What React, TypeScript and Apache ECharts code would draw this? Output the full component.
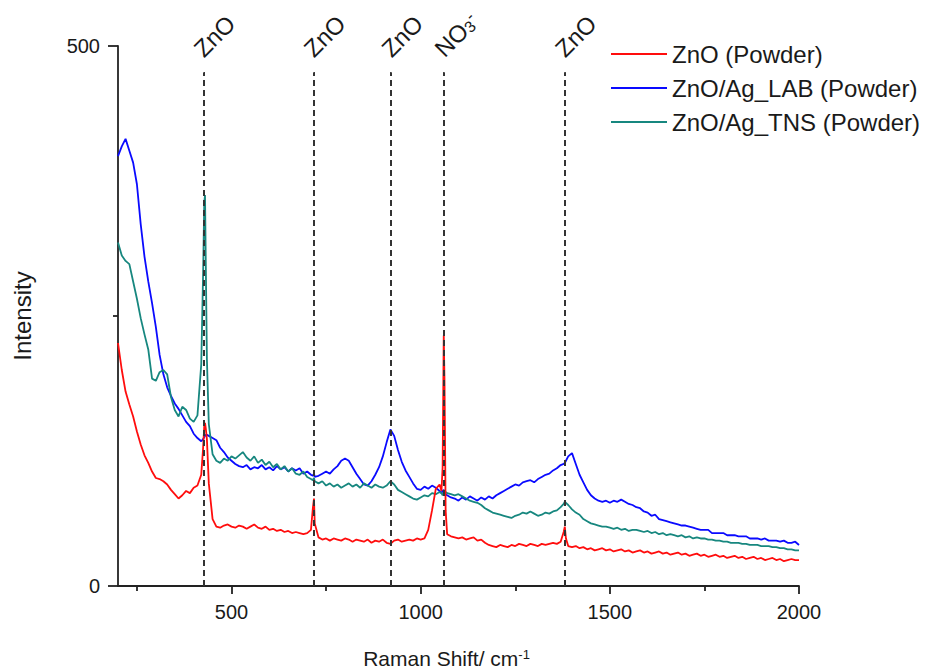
import React, { useEffect, useRef } from "react";
import * as echarts from "echarts";

// Raman shift grid (cm^-1)
const ramanShift = [
  200, 210, 220, 230, 240, 250, 260, 270, 280, 290, 300, 310, 320, 330, 340, 350, 360, 370, 380, 390, 400, 410, 420,
  425, 428, 430, 432, 435,
  440, 450, 460, 470, 480, 490, 500, 510, 520, 530, 540, 550, 560, 570, 580, 590, 600, 610, 620, 630, 640, 650, 660, 670, 680, 690, 700, 710,
  715, 718,
  720, 730, 740, 750, 760, 770, 780, 790, 800, 810, 820, 830, 840, 850, 860, 870, 880, 890, 900, 910, 920, 930, 940, 950, 960, 970, 980, 990, 1000, 1010, 1020, 1030, 1040, 1050,
  1055, 1058, 1061, 1063, 1066,
  1070, 1080, 1090, 1100, 1110, 1120, 1130, 1140, 1150, 1160, 1170, 1180, 1190, 1200, 1210, 1220, 1230, 1240, 1250, 1260, 1270, 1280, 1290, 1300, 1310, 1320, 1330, 1340, 1350, 1360, 1370,
  1378, 1381, 1384,
  1390, 1400, 1410, 1420, 1430, 1440, 1450, 1460, 1470, 1480, 1490, 1500, 1510, 1520, 1530, 1540, 1550, 1560, 1570, 1580, 1590, 1600, 1610, 1620, 1630, 1640, 1650, 1660, 1670, 1680, 1690, 1700, 1710, 1720, 1730, 1740, 1750, 1760, 1770, 1780, 1790, 1800, 1810, 1820, 1830, 1840, 1850, 1860, 1870, 1880, 1890, 1900, 1910, 1920, 1930, 1940, 1950, 1960, 1970, 1980, 1990, 2000,
];

const znoPowder = [
  225, 200, 180, 168, 157, 143, 131, 121, 114, 106, 100, 99, 97, 94, 89, 85, 81, 84, 88, 86, 91, 93, 103,
  128, 148, 151, 146, 136,
  95, 62, 55, 54, 56, 57, 55, 54, 56, 55, 53, 55, 57, 54, 53, 55, 52, 53, 51, 52, 50, 51, 49, 50, 49, 48, 49, 52,
  72, 81,
  58, 45, 43, 44, 42, 44, 43, 42, 44, 43, 41, 43, 42, 41, 43, 40, 42, 41, 43, 40, 39, 42, 43, 41, 42, 43, 42, 44, 43, 44, 52, 70, 90, 94,
  88, 110, 232, 190, 70,
  48, 46, 45, 44, 45, 43, 44, 45, 42, 43, 40, 38, 37, 36, 38, 37, 36, 38, 37, 39, 38, 37, 39, 38, 37, 39, 38, 39, 40, 39, 41,
  50, 55, 44,
  37, 36, 37, 35, 36, 34, 35, 33, 34, 35, 33, 34, 32, 33, 34, 32, 33, 31, 32, 33, 31, 32, 30, 31, 32, 30, 31, 29, 30, 31, 29, 30, 28, 29, 30, 28, 29, 27, 28, 29, 27, 28, 26, 27, 28, 26, 27, 25, 26, 27, 25, 26, 24, 25, 26, 24, 25, 23, 24, 25, 24, 24,
];

const labPowder = [
  398, 407, 414, 403, 392, 372, 335, 305, 282, 262, 240, 214, 196, 184, 176, 169, 164, 158, 152, 148, 141, 137, 134,
  136, 138, 139, 140, 140,
  139, 137, 135, 128, 124, 119, 116, 113, 111, 110, 112, 108, 110, 109, 112, 108, 110, 107, 111, 108, 110, 106, 109, 107, 109, 104, 106, 103,
  102, 104,
  101, 102, 104, 106, 104, 108, 111, 116, 118, 116, 110, 104, 99, 94, 93, 97, 103, 110, 120, 133, 145, 139, 126, 115, 107, 101, 95, 90, 89, 92, 90, 93, 91, 88,
  86, 88, 89, 87, 85,
  84, 82, 81, 79, 82, 80, 83, 81, 79, 82, 80, 83, 81, 84, 86, 88, 90, 92, 94, 93, 96, 97, 98, 96, 99, 101, 103, 104, 107, 109, 112,
  113, 114, 116,
  120, 123, 113, 103, 96, 89, 84, 81, 79, 78, 79, 77, 79, 78, 80, 78, 76, 75, 73, 72, 69, 68, 65, 66, 62, 61, 60, 59, 58, 57, 56, 56, 55, 54, 53, 52, 52, 52, 49, 49, 49, 49, 47, 47, 47, 46, 46, 46, 44, 44, 44, 43, 44, 42, 42, 42, 41, 42, 40, 40, 41, 38,
];

const tnsPowder = [
  318, 306, 301, 298, 282, 266, 248, 233, 219, 192, 190, 198, 200, 196, 175, 163, 157, 166, 163, 155, 152, 158, 205,
  290, 355, 362, 300, 210,
  150, 122, 116, 114, 118, 116, 120, 118, 121, 124, 119, 116, 120, 114, 117, 112, 115, 110, 113, 108, 111, 106, 109, 104, 103, 106, 101, 99,
  98, 100,
  97, 95, 97, 93, 95, 92, 94, 91, 93, 95, 92, 94, 91, 95, 93, 91, 94, 92, 91, 93, 97, 94, 89, 87, 85, 83, 81, 80, 82, 84, 83, 86, 85, 87,
  86, 84, 86, 85, 87,
  86, 85, 84, 85, 83, 81, 79, 78, 77, 75, 72, 70, 68, 67, 66, 65, 64, 63, 65, 66, 68, 67, 69, 67, 65, 66, 68, 67, 69, 70, 73,
  76, 78, 77,
  75, 71, 68, 66, 62, 60, 58, 57, 56, 55, 55, 54, 53, 54, 52, 53, 51, 52, 52, 51, 50, 51, 49, 50, 48, 49, 47, 48, 47, 46, 47, 45, 46, 44, 45, 44, 44, 43, 43, 42, 42, 41, 41, 40, 40, 40, 39, 39, 38, 38, 38, 37, 37, 37, 36, 36, 35, 35, 34, 34, 33, 33,
];

const seriesNames = ["ZnO (Powder)", "ZnO/Ag_LAB (Powder)", "ZnO/Ag_TNS (Powder)"];
const peakPositions = [426, 717, 922, 1062, 1381];
const peakLabels = ["ZnO", "ZnO", "ZnO", "{n|NO}{s|3}{p|-}", "ZnO"];
const peakLineTop = 476;
const xMajorTicks = [500, 1000, 1500, 2000];
const xMinorTicks = [250, 750, 1250, 1750];
const yMajorTicks = [0, 500];
const yMinorTicks = [250];

const FONT = "'Liberation Sans', Arial, sans-serif";
const TXT = "#1a1a1a";
const AX = "#222";

export default function App() {
  const ref = useRef<HTMLDivElement>(null);
  useEffect(() => {
    const chart = echarts.init(ref.current!, null, { renderer: "svg" });
    const pair = (ys: number[]) => ramanShift.map((x, i) => [x, ys[i]]);
    const lineSeries = (name: string, ys: number[], color: string) => ({
      name,
      type: "line",
      data: pair(ys),
      showSymbol: false,
      symbol: "none",
      lineStyle: { color, width: 1.8 },
      itemStyle: { color },
      z: 3,
    });
    chart.setOption({
      animation: false,
      backgroundColor: "#fff",
      textStyle: { fontFamily: FONT },
      grid: { left: 118, top: 46, width: 681, height: 540, containLabel: false, outerBoundsMode: "none" },
      legend: {
        data: seriesNames,
        orient: "vertical",
        left: 606,
        top: 37,
        icon: "rect",
        itemWidth: 56,
        itemHeight: 2,
        itemGap: 10,
        textStyle: { fontFamily: FONT, fontSize: 24, color: TXT },
      },
      xAxis: [
        {
          type: "value",
          min: 200,
          max: 2000,
          position: "bottom",
          name: "Raman Shift/ cm{sup|-1}",
          nameLocation: "middle",
          nameGap: 62,
          nameTextStyle: {
            fontFamily: FONT,
            fontSize: 21,
            color: TXT,
            padding: [0, 24, 0, 0],
            rich: { sup: { fontFamily: FONT, fontSize: 13, color: TXT, verticalAlign: "top" } },
          },
          axisLine: { show: true, lineStyle: { color: AX, width: 1.8 } },
          axisTick: { show: true, customValues: xMajorTicks, length: 8, lineStyle: { color: AX, width: 1.8 } },
          axisLabel: {
            customValues: xMajorTicks,
            formatter: (v: number) => String(v),
            fontFamily: FONT,
            fontSize: 20,
            color: TXT,
            margin: 16,
          },
          splitLine: { show: false },
        },
        {
          type: "value",
          min: 200,
          max: 2000,
          position: "bottom",
          axisLine: { show: false },
          axisTick: { show: true, customValues: xMinorTicks, length: 5, lineStyle: { color: AX, width: 1.8 } },
          axisLabel: { show: false },
          splitLine: { show: false },
        },
      ],
      yAxis: [
        {
          type: "value",
          min: 0,
          max: 500,
          position: "left",
          name: "Intensity",
          nameLocation: "middle",
          nameGap: 84,
          nameTextStyle: { fontFamily: FONT, fontSize: 24, color: TXT },
          axisLine: { show: true, lineStyle: { color: AX, width: 1.8 } },
          axisTick: { show: true, customValues: yMajorTicks, length: 10, lineStyle: { color: AX, width: 1.8 } },
          axisLabel: {
            customValues: yMajorTicks,
            formatter: (v: number) => String(v),
            fontFamily: FONT,
            fontSize: 20,
            color: TXT,
            margin: 18,
          },
          splitLine: { show: false },
        },
        {
          type: "value",
          min: 0,
          max: 500,
          position: "left",
          offset: 0,
          axisLine: { show: false },
          axisTick: { show: true, customValues: yMinorTicks, length: 5, lineStyle: { color: AX, width: 1.8 } },
          axisLabel: { show: false },
          splitLine: { show: false },
        },
      ],
      series: [
        {
          name: "peaks",
          type: "scatter",
          symbolSize: 1,
          itemStyle: { color: "#ffffff", opacity: 1 },
          silent: true,
          z: 5,
          data: peakPositions.map((x, i) => ({
            value: [x, peakLineTop],
            label: {
              show: true,
              formatter: peakLabels[i],
              position: [-5, -19],
              rotate: 45,
              align: "left",
              verticalAlign: "middle",
              fontFamily: FONT,
              fontSize: 24,
              color: TXT,
              textBorderWidth: 0,
              textBorderColor: "transparent",
              rich: {
                n: { fontFamily: FONT, fontSize: 24, color: TXT, textBorderWidth: 0 },
                s: { fontFamily: FONT, fontSize: 16, color: TXT, verticalAlign: "bottom", textBorderWidth: 0 },
                p: { fontFamily: FONT, fontSize: 16, color: TXT, verticalAlign: "top", textBorderWidth: 0 },
              },
            },
          })),
          markLine: {
            silent: true,
            symbol: ["none", "none"],
            label: { show: false },
            lineStyle: { color: "#333", width: 2, type: [6, 4] },
            data: peakPositions.map((x) => [{ coord: [x, 0] }, { coord: [x, peakLineTop] }]),
          },
        },
        lineSeries(seriesNames[1], labPowder, "#0a0aff"),
        lineSeries(seriesNames[2], tnsPowder, "#17877f"),
        lineSeries(seriesNames[0], znoPowder, "#ff0d0d"),
      ],
    });
    return () => chart.dispose();
  }, []);
  return <div ref={ref} style={{ position: "absolute", left: 0, top: 0, width: 925, height: 671 }} />;
}
